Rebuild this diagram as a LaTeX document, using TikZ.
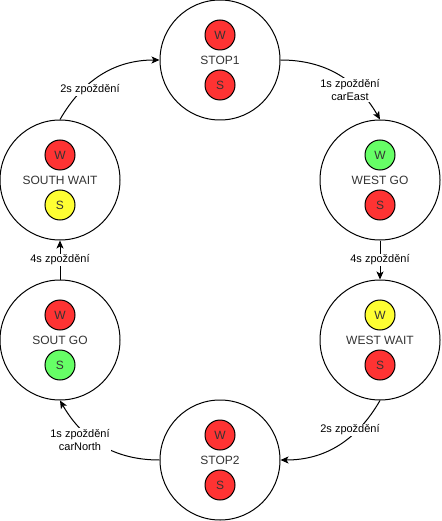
\documentclass[tikz,border=0pt]{standalone}
\usepackage{fontspec}
\setmainfont{Liberation Sans}
\usetikzlibrary{arrows.meta}
\definecolor{redl}{HTML}{FF3333}
\definecolor{greenl}{HTML}{66FF66}
\definecolor{yellowl}{HTML}{FFFF33}
\definecolor{txt}{HTML}{333333}
\begin{document}
\begin{tikzpicture}[x=1pt,y=-1pt,
  state/.style={circle,draw,line width=1pt,minimum size=120pt,inner sep=0pt,font=\fontsize{12}{14}\selectfont,text=txt},
  lamp/.style={circle,draw,line width=1pt,minimum size=30pt,inner sep=0pt,font=\fontsize{12}{14}\selectfont,text=txt},
  edge/.style={line width=1pt,-{Stealth[length=8pt,width=7pt,inset=2pt]}},
  elabel/.style={fill=white,inner sep=1pt,font=\fontsize{11}{13}\selectfont,align=center}]
\useasboundingbox (0,0) rectangle (441,521);
% states
\node[state] (stop1) at (220,60) {STOP1};
\node[lamp,fill=redl] (stop1w) at (220,35) {W};
\node[lamp,fill=redl] (stop1s) at (220,85) {S};

\node[state] (westgo) at (380,180) {WEST GO};
\node[lamp,fill=greenl] (westgow) at (380,155) {W};
\node[lamp,fill=redl] (westgos) at (380,205) {S};

\node[state] (westwait) at (380,340) {WEST WAIT};
\node[lamp,fill=yellowl] (westwaitw) at (380,315) {W};
\node[lamp,fill=redl] (westwaits) at (380,365) {S};

\node[state] (stop2) at (220,460) {STOP2};
\node[lamp,fill=redl] (stop2w) at (220,435) {W};
\node[lamp,fill=redl] (stop2s) at (220,485) {S};

\node[state] (soutgo) at (60,340) {SOUT GO};
\node[lamp,fill=redl] (soutgow) at (60,315) {W};
\node[lamp,fill=greenl] (soutgos) at (60,365) {S};

\node[state] (southwait) at (60,180) {SOUTH WAIT};
\node[lamp,fill=redl] (southwaitw) at (60,155) {W};
\node[lamp,fill=yellowl] (southwaits) at (60,205) {S};

% edges
\draw[edge] (stop1.east) to[out=0,in=120] (westgo.north);
\node[elabel] (l1) at (350,90) {1s zpoždění\\carEast};

\draw[edge] (westgo.south) -- (westwait.north);
\node[elabel] (l2) at (380,260) {4s zpoždění};

\draw[edge] (westwait.south) to[out=-120,in=0] (stop2.east);
\node[elabel] (l3) at (350,430) {2s zpoždění};

\draw[edge] (stop2.west) to[out=180,in=-60] (soutgo.south);
\node[elabel] (l4) at (80,440) {1s zpoždění\\carNorth};

\draw[edge] (soutgo.north) -- (southwait.south);
\node[elabel] (l5) at (60,260) {4s zpoždění};

\draw[edge] (southwait.north) to[out=60,in=180] (stop1.west);
\node[elabel] (l6) at (90,90) {2s zpoždění};
\end{tikzpicture}
\end{document}
